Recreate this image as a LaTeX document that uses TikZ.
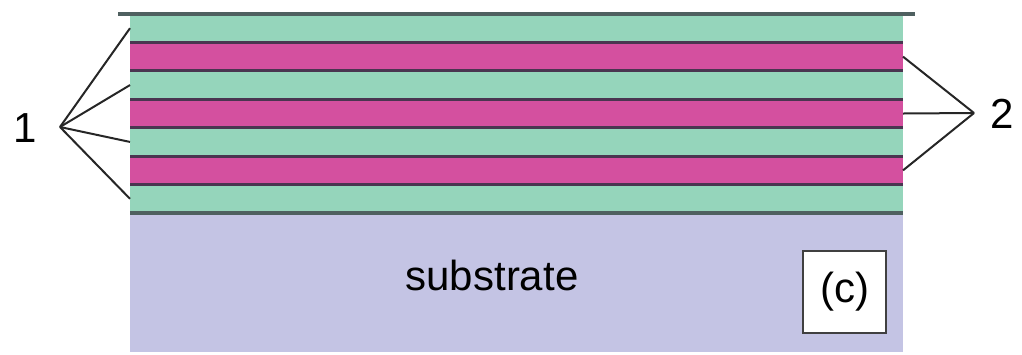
\documentclass[tikz,border=0pt]{standalone}
\usepackage{fontspec}
\setmainfont{Liberation Sans}
\definecolor{mint}{HTML}{95D5BB}
\definecolor{mag}{HTML}{D4509F}
\definecolor{subs}{HTML}{C4C4E4}
\definecolor{sepdark}{HTML}{4A3550}
\definecolor{sepgray}{HTML}{4F6060}
\tikzset{
  layer/.style={draw=none, inner sep=0pt, outer sep=0pt, minimum width=386.5pt, minimum height=14.215pt},
  sep/.style={line width=1.6pt, draw=sepdark},
  edgeline/.style={line width=2.2pt, draw=sepgray},
  pointer/.style={line width=1pt, draw=black!85},
  lbl/.style={font=\fontsize{21}{24}\selectfont, inner sep=0pt}
}
\begin{document}
\begin{tikzpicture}[x=0.5pt,y=-0.5pt]
\useasboundingbox (0,0) rectangle (1022,354);
% substrate
\node[layer, fill=subs, minimum height=69.5pt, anchor=north west] (sub) at (130,213) {};
% layers
\node[layer, fill=mint, anchor=north west] (L1) at (130,14) {};
\node[layer, fill=mag,  anchor=north west] (L2) at (130,42.43) {};
\node[layer, fill=mint, anchor=north west] (L3) at (130,70.86) {};
\node[layer, fill=mag,  anchor=north west] (L4) at (130,99.29) {};
\node[layer, fill=mint, anchor=north west] (L5) at (130,127.72) {};
\node[layer, fill=mag,  anchor=north west] (L6) at (130,156.15) {};
\node[layer, fill=mint, anchor=north west] (L7) at (130,184.58) {};
% separators
\draw[edgeline] ([xshift=-6pt]L1.north west) -- ([xshift=6pt]L1.north east);
\foreach \n in {L2,L3,L4,L5,L6,L7}{
  \draw[sep] (\n.north west) -- (\n.north east);
}
\draw[edgeline] (sub.north west) -- (sub.north east);
% labels and pointers
\node[lbl] (one) at (25,128) {1};
\coordinate (apex1) at (60,127);
\node[lbl] (two) at (1002,114) {2};
\coordinate (apex2) at (974,113);
\foreach \n in {L1,L3,L5,L7}{
  \draw[pointer] (apex1) -- (\n.west);
}
\foreach \n in {L2,L4,L6}{
  \draw[pointer] (apex2) -- (\n.east);
}
\node[lbl] (st) at (492,275) {substrate};
\node[lbl, draw=black!75, line width=1.4pt, fill=white, minimum width=41.5pt, minimum height=41pt] (c) at (844.5,292) {(c)};
\end{tikzpicture}
\end{document}
